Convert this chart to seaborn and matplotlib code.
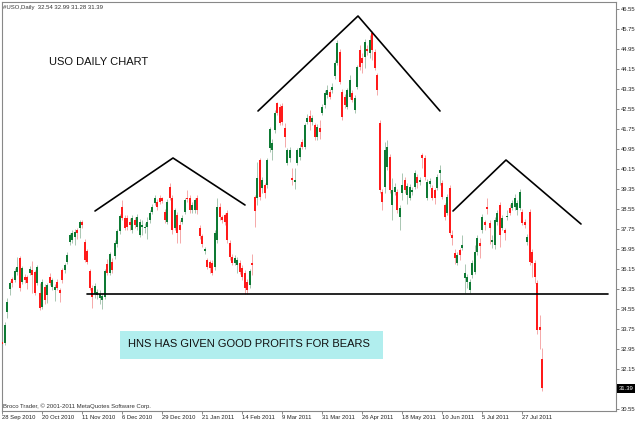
import numpy as np
import pandas as pd
import matplotlib
matplotlib.use("Agg")
import matplotlib.pyplot as plt
from matplotlib.patches import Rectangle
import seaborn as sns

# daily bars of USO, 28 Sep 2010 .. 8 Aug 2011
opens = [33.23, 33.19, 34.43, 35.35, 35.75, 35.71, 36.03, 36.59, 35.63, 35.83,
         35.83, 35.99, 36.11, 36.03, 35.59, 35.19, 34.63, 35.43, 35.11, 35.83,
         35.43, 35.31, 35.63, 35.31, 36.11, 36.11, 36.43, 37.23, 37.31, 37.43,
         37.71, 37.79, 38.03, 37.23, 36.87, 36.07, 35.39, 35.15, 35.11, 34.99,
         34.91, 35.03, 36.35, 35.99, 36.43, 36.67, 37.15, 37.67, 38.63, 38.19,
         38.19, 38.03, 37.71, 38.11, 37.83, 37.51, 37.83, 37.79, 37.83, 38.11,
         38.43, 38.79, 38.83, 38.99, 38.99, 38.43, 38.03, 39.43, 38.99, 37.79,
         38.31, 37.91, 38.03, 38.43, 38.99, 38.99, 38.51, 38.51, 38.99, 37.79,
         37.47, 36.87, 36.51, 36.43, 36.39, 36.23, 37.31, 38.63, 38.23, 38.31,
         38.39, 37.19, 36.63, 36.39, 36.31, 36.39, 36.19, 35.99, 35.63, 35.51,
         36.39, 39.03, 38.99, 40.51, 39.39, 39.51, 39.51, 40.99, 40.91, 41.71,
         42.79, 42.63, 42.67, 41.79, 40.39, 40.59, 39.79, 39.63, 40.39, 40.63,
         41.23, 41.03, 42.03, 42.27, 42.03, 41.91, 41.43, 41.79, 42.39, 42.71,
         43.11, 43.23, 43.31, 43.87, 44.39, 44.83, 43.23, 43.03, 42.63, 43.03,
         43.19, 42.51, 43.43, 44.91, 44.59, 44.63, 44.95, 44.79, 45.59, 44.83,
         43.91, 41.99, 39.23, 39.43, 40.23, 40.63, 38.71, 39.23, 39.23, 38.23,
         39.19, 39.71, 39.11, 38.99, 39.23, 39.43, 39.83, 39.63, 40.71, 40.59,
         38.99, 39.55, 39.39, 39.31, 39.39, 39.99, 39.59, 38.71, 38.39, 39.39,
         37.51, 36.79, 36.39, 36.91, 36.99, 35.79, 35.63, 35.31, 35.91, 36.03,
         36.83, 37.19, 37.71, 38.03, 38.63, 37.99, 37.23, 37.11, 38.03, 38.71,
         37.79, 37.71, 38.23, 38.59, 38.59, 38.63, 38.51, 38.59, 38.43, 38.03,
         37.23, 38.43, 36.83, 36.39, 35.59, 33.83, 32.54]

highs = [33.63, 34.03, 34.99, 35.67, 35.85, 36.19, 36.63, 36.67, 36.27, 35.95,
         35.90, 36.27, 36.47, 36.10, 36.30, 35.60, 35.75, 35.55, 35.60, 36.00,
         35.80, 35.55, 35.75, 35.40, 36.20, 36.40, 36.83, 37.60, 37.70, 37.75,
         37.80, 38.11, 38.10, 37.35, 36.95, 36.15, 35.50, 35.60, 35.35, 35.30,
         35.20, 36.15, 36.55, 36.85, 36.60, 37.30, 37.75, 38.35, 38.91, 38.30,
         38.30, 38.20, 38.30, 38.25, 38.35, 38.15, 38.10, 38.00, 38.23, 38.50,
         38.75, 39.10, 38.95, 39.10, 39.05, 38.55, 38.95, 39.60, 39.10, 38.60,
         38.45, 38.10, 38.30, 39.00, 39.31, 39.10, 38.85, 39.00, 39.10, 37.90,
         37.55, 37.05, 36.60, 36.50, 36.50, 37.70, 38.99, 38.80, 38.30, 38.40,
         38.50, 37.30, 36.75, 36.70, 36.65, 36.50, 36.30, 36.10, 35.75, 36.15,
         36.75, 39.10, 40.43, 40.60, 39.85, 39.60, 40.60, 41.85, 41.35, 42.50,
         42.85, 42.75, 42.80, 42.00, 41.00, 41.05, 40.20, 40.20, 41.00, 41.15,
         41.35, 42.00, 42.35, 42.51, 42.30, 42.00, 41.95, 42.11, 42.75, 43.30,
         43.50, 43.35, 43.60, 44.50, 45.30, 44.95, 43.35, 43.15, 43.40, 43.90,
         43.30, 43.10, 44.30, 45.10, 44.80, 45.35, 45.10, 45.50, 45.67, 44.95,
         44.00, 42.11, 39.35, 41.23, 41.31, 40.75, 39.80, 39.60, 39.35, 38.70,
         40.00, 39.85, 39.60, 39.55, 39.45, 40.10, 39.95, 39.85, 40.80, 40.70,
         39.75, 39.80, 39.50, 39.40, 39.95, 40.30, 39.70, 38.80, 39.15, 39.50,
         37.71, 36.95, 36.85, 37.00, 37.51, 36.35, 35.95, 35.75, 36.50, 37.10,
         37.50, 37.40, 38.35, 38.11, 38.99, 38.10, 37.50, 38.25, 38.50, 38.85,
         38.30, 37.80, 38.50, 38.75, 38.90, 39.15, 38.90, 39.35, 38.55, 38.15,
         37.55, 38.55, 36.95, 36.50, 35.70, 34.31, 32.99]

lows = [32.99, 33.11, 34.19, 35.11, 35.45, 35.63, 35.90, 35.27, 35.55, 35.60,
        35.35, 35.90, 35.20, 35.10, 35.50, 34.50, 34.55, 34.75, 34.80, 35.50,
        35.30, 34.87, 35.30, 34.83, 35.60, 36.00, 36.35, 37.10, 37.20, 37.10,
        37.35, 37.39, 37.80, 36.45, 36.35, 35.30, 34.59, 35.00, 34.95, 34.75,
        34.55, 34.95, 35.90, 35.90, 36.00, 36.55, 37.05, 37.55, 38.10, 37.70,
        37.70, 37.70, 37.60, 37.80, 37.70, 37.45, 37.50, 37.60, 37.35, 38.00,
        38.35, 38.70, 38.50, 38.75, 38.80, 38.00, 37.95, 38.90, 37.55, 37.70,
        37.19, 37.19, 37.95, 38.35, 38.85, 38.40, 38.40, 38.40, 38.35, 37.35,
        37.05, 36.75, 36.15, 35.99, 35.90, 36.10, 37.20, 38.10, 38.00, 37.90,
        37.20, 36.50, 36.30, 36.30, 36.00, 35.95, 35.70, 35.15, 35.15, 35.40,
        35.91, 37.83, 38.71, 38.90, 39.20, 39.00, 39.40, 40.85, 40.50, 41.60,
        42.30, 41.90, 41.90, 41.03, 40.30, 40.45, 39.50, 39.35, 40.30, 40.50,
        40.95, 40.95, 41.95, 41.70, 41.90, 41.30, 41.30, 41.35, 42.30, 42.60,
        43.00, 42.95, 43.20, 43.75, 44.30, 43.55, 42.11, 42.60, 42.55, 42.95,
        42.85, 42.40, 43.35, 44.10, 44.00, 44.20, 44.70, 44.60, 44.50, 44.10,
        43.10, 39.20, 38.51, 39.20, 40.10, 39.20, 38.10, 39.10, 38.40, 37.71,
        38.90, 39.20, 38.75, 38.90, 39.10, 39.35, 39.40, 39.50, 40.20, 39.70,
        38.90, 39.45, 38.90, 38.75, 39.30, 39.50, 38.95, 38.10, 38.30, 37.50,
        37.10, 36.35, 36.30, 36.50, 36.90, 35.19, 35.40, 35.19, 35.80, 35.95,
        36.70, 36.60, 37.60, 37.70, 38.35, 37.15, 37.00, 36.95, 37.90, 37.03,
        37.70, 37.30, 38.10, 38.30, 38.50, 38.50, 38.30, 38.50, 37.90, 37.80,
        37.10, 36.30, 35.83, 35.60, 33.55, 32.95, 31.28]

closes = [33.15, 33.91, 34.83, 35.59, 35.59, 36.07, 36.23, 35.39, 36.19, 35.71,
          35.59, 36.15, 35.91, 35.19, 36.23, 34.59, 35.63, 34.91, 35.51, 35.59,
          35.71, 35.43, 35.39, 35.19, 35.71, 36.31, 36.71, 37.51, 37.59, 37.63,
          37.59, 38.03, 37.91, 36.51, 36.43, 35.39, 35.03, 35.47, 35.23, 35.15,
          35.07, 36.07, 35.99, 36.75, 36.11, 37.19, 37.67, 38.27, 38.19, 37.79,
          37.83, 37.91, 38.19, 37.91, 38.23, 38.03, 37.91, 37.83, 38.03, 38.39,
          38.63, 38.99, 38.63, 38.83, 38.87, 38.11, 38.83, 38.99, 37.71, 38.51,
          37.59, 37.71, 38.19, 38.91, 38.95, 38.51, 38.71, 38.91, 38.51, 37.47,
          37.15, 36.95, 36.23, 36.19, 35.99, 37.59, 38.63, 38.23, 38.11, 38.03,
          37.31, 36.63, 36.39, 36.59, 36.51, 36.03, 35.83, 35.39, 35.31, 36.07,
          36.31, 38.47, 39.79, 39.03, 39.71, 39.19, 40.51, 41.75, 41.19, 42.39,
          42.39, 41.99, 42.03, 41.43, 40.91, 40.91, 39.71, 39.71, 40.91, 40.99,
          41.03, 41.91, 42.19, 42.03, 42.19, 41.43, 41.83, 41.63, 42.63, 43.19,
          43.31, 43.03, 43.43, 44.39, 45.19, 43.63, 42.23, 42.71, 43.31, 43.71,
          42.91, 42.99, 44.23, 44.23, 44.39, 45.23, 44.87, 45.31, 44.91, 44.19,
          43.31, 39.31, 38.83, 40.91, 41.03, 39.31, 39.31, 39.43, 38.51, 38.59,
          39.51, 39.31, 39.47, 39.43, 39.31, 39.99, 39.59, 39.71, 40.59, 39.83,
          39.63, 39.67, 38.99, 38.99, 39.83, 40.11, 39.03, 38.23, 39.03, 37.59,
          37.39, 36.59, 36.71, 36.71, 37.11, 35.99, 35.83, 35.63, 36.39, 36.83,
          37.39, 37.07, 38.23, 37.91, 38.55, 37.79, 37.31, 38.11, 38.39, 37.51,
          38.19, 37.59, 38.27, 38.39, 38.79, 38.99, 38.79, 39.23, 37.99, 37.91,
          37.43, 36.43, 36.39, 35.83, 33.71, 33.71, 31.39]

date_labels = ["28 Sep 2010", "20 Oct 2010", "11 Nov 2010", "6 Dec 2010",
               "29 Dec 2010", "21 Jan 2011", "14 Feb 2011", "9 Mar 2011",
               "31 Mar 2011", "26 Apr 2011", "18 May 2011", "10 Jun 2011",
               "5 Jul 2011", "27 Jul 2011"]
date_bars = [0, 16, 32, 48, 64, 80, 96, 112, 128, 144, 160, 176, 192, 208]

# 31.35 sits under the last-price tag, so it is left out
price_ticks = [30.55, 32.15, 32.95, 33.75, 34.55, 35.35, 36.15, 36.95,
               37.75, 38.55, 39.35, 40.15, 40.95, 41.75, 42.55, 43.35, 44.15,
               44.95, 45.75, 46.55]

# head and shoulders drawing (bar index, price)
left_shoulder_x = [37.2, 68.4, 97.2]
left_shoulder_y = [38.47, 40.59, 38.71]
head_x = [102.4, 142.4, 175.2]
head_y = [42.47, 46.27, 42.47]
right_shoulder_x = [180.4, 201.6, 231.6]
right_shoulder_y = [38.47, 40.51, 37.95]
neck_x = [34.0, 242.4]
neck_y = [35.15, 35.15]

df = pd.DataFrame({"bar": np.arange(len(closes)), "open": opens, "high": highs,
                   "low": lows, "close": closes})
df["bull"] = df["close"] >= df["open"]

sns.set_style("white")
plt.rcParams["font.family"] = ["Liberation Sans", "DejaVu Sans"]

W, H = 640, 422
fig = plt.figure(figsize=(6.4, 4.22), dpi=100)
ax = fig.add_axes([1.5 / W, 1 - 411 / H, (616 - 1.5) / W, (411 - 1.5) / H])

green = "#0e7a34"
red = "#ff1a1a"
wick_cols = np.where(df["bull"], "#a9c6b2", "#f5a9a9")
body_cols = np.where(df["bull"], green, red)

ax.vlines(df["bar"], df["low"], df["high"], colors=wick_cols, linewidth=0.7, zorder=2)
body_h = np.maximum((df["close"] - df["open"]).abs(), 0.03)
body_b = np.minimum(df["open"], df["close"])
ax.bar(df["bar"], body_h, bottom=body_b, width=0.8, color=body_cols,
       linewidth=0, zorder=3)

for xs, ys in [(left_shoulder_x, left_shoulder_y), (head_x, head_y),
               (right_shoulder_x, right_shoulder_y), (neck_x, neck_y)]:
    sns.lineplot(x=xs, y=ys, sort=False, estimator=None, color="black",
                 linewidth=1.2, ax=ax, zorder=4)

ax.set_xlim(-0.2, 245.6)
ax.set_ylim(30.47, 46.85)

ax.yaxis.tick_right()
ax.set_yticks(price_ticks)
ax.set_yticklabels([f"{p:.2f}" for p in price_ticks])
ax.set_xticks(date_bars)
ax.set_xticklabels(date_labels, ha="left")
ax.tick_params(axis="both", labelsize=4.2, length=2.2, width=0.6, color="#777777",
               labelcolor="#222222", pad=1, direction="out")
ax.tick_params(axis="y", right=True, left=False)
ax.tick_params(axis="x", bottom=True)
for s in ax.spines.values():
    s.set_color("#888888")
    s.set_linewidth(0.8)
ax.set_xlabel("")
ax.set_ylabel("")
ax.grid(False)

def fx(px):
    return px / W

def fy(py):
    return 1 - py / H

fig.text(fx(3), fy(7), "#USO,Daily  32.54 32.99 31.28 31.39", fontsize=4.3,
         color="#333333", va="center", ha="left")
fig.text(fx(49), fy(62), "USO DAILY CHART", fontsize=8, color="#111111",
         va="center", ha="left")
fig.patches.append(Rectangle((fx(120), fy(358.5)), fx(263), 27.5 / H,
                             transform=fig.transFigure, facecolor="#b1eeee",
                             edgecolor="none", zorder=5))
fig.text(fx(128), fy(344), "HNS HAS GIVEN GOOD PROFITS FOR BEARS", fontsize=8,
         color="#111111", va="center", ha="left", zorder=6)
fig.text(fx(3), fy(406), "Broco Trader, \u00a9 2001-2011 MetaQuotes Software Corp.",
         fontsize=4.3, color="#333333", va="center", ha="left")

# last price tag on the price scale
fig.patches.append(Rectangle((fx(617), fy(393)), fx(18), 9 / H,
                             transform=fig.transFigure, facecolor="black",
                             edgecolor="none", zorder=5))
fig.text(fx(626), fy(388.5), f"{closes[-1]:.2f}", fontsize=4.2, color="white",
         va="center", ha="center", zorder=6)

fig.savefig("out.png", dpi=100)
